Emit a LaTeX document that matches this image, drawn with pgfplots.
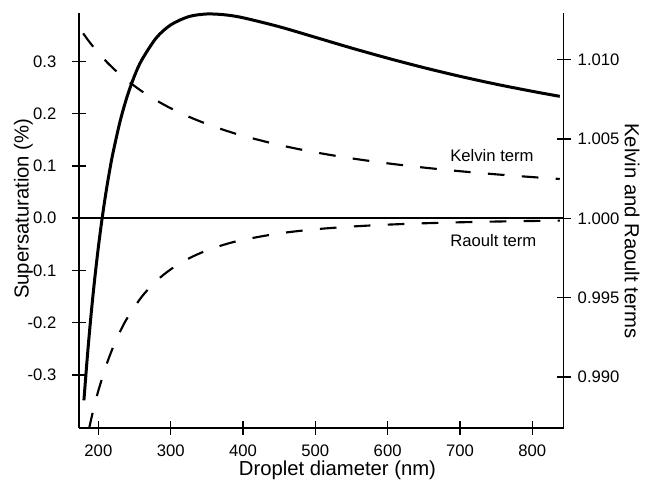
\documentclass[border=0pt]{standalone}
\usepackage{fontspec}
\setmainfont{Liberation Sans}
\usepackage{pgfplots}
\pgfplotsset{compat=1.18}

\pgfplotsset{
  common/.style={
    scale only axis, width=363.5pt, height=311.25pt,
    xmin=173.2, xmax=843.4,
    tick align=center, major tick length=10.5pt,
    every tick/.style={black, line width=1.1pt},
    axis line style={line width=1.1pt},
    tick label style={font=\fontsize{12.5}{14}\selectfont, inner sep=0pt},
    /pgf/number format/assume math mode=true,
  }
}

\begin{document}
\begin{tikzpicture}
\begin{axis}[common,
  axis x line*=bottom, axis y line*=left,
  ymin=-0.4014, ymax=0.3924,
  xtick={200,300,400,500,600,700,800},
  ytick={-0.3,-0.2,-0.1,0,0.1,0.2,0.3},
  xticklabel style={anchor=base, yshift=-15.95pt},
  yticklabel style={anchor=east, xshift=-11.5pt,
    /pgf/number format/.cd,fixed,fixed zerofill,precision=1},
  xlabel={Droplet diameter (nm)},
  ylabel={Supersaturation (\%)},
  every axis x label/.style={at={(axis description cs:0.5333,0)},anchor=base,yshift=-36pt,font=\fontsize{15.2}{18}\selectfont},
  every axis y label/.style={at={(axis description cs:-0.1038,0.528)},anchor=base,rotate=90,font=\fontsize{15.2}{18}\selectfont},
]
% zero line
\addplot[black, line width=1pt] coordinates {(173.2,0) (843.4,0)};
% Koehler curve, supersaturation in %
\addplot[black, line width=2.25pt, smooth] coordinates {
  (180,-0.3485) (185,-0.2606) (190,-0.1832) (195,-0.1152) (200,-0.0552)
  (205,-0.0022) (210,0.0449) (215,0.0865) (220,0.1234) (230,0.1851)
  (240,0.2338) (250,0.2723) (260,0.3025) (280,0.3447) (300,0.3696)
  (325,0.3855) (350,0.3905) (375,0.3889) (400,0.3833) (450,0.3662)
  (500,0.3459) (550,0.3254) (600,0.3060) (650,0.2879) (700,0.2713)
  (750,0.2562) (800,0.2426) (838,0.2330)
};
\node[anchor=base west, inner sep=0pt, font=\fontsize{12.5}{14}\selectfont] at (axis cs:686.2,0.1082) {Kelvin term};
\node[anchor=base west, inner sep=0pt, font=\fontsize{12.5}{14}\selectfont] at (axis cs:686.2,-0.0533) {Raoult term};
\end{axis}

\begin{axis}[common,
  axis x line=none, axis y line*=right,
  ymin=0.98678, ymax=1.01294,
  ytick={0.990,0.995,1.000,1.005,1.010},
  yticklabel style={anchor=west, xshift=5.1pt,
    /pgf/number format/.cd,fixed,fixed zerofill,precision=3},
  ylabel={Kelvin and Raoult terms},
  every axis y label/.style={at={(axis description cs:1.1265,0.475)},anchor=base,rotate=-90,font=\fontsize{15.2}{18}\selectfont},
]
% Kelvin term
\addplot[black, line width=1.6pt, dash pattern=on 12.5pt off 13pt, smooth] coordinates {
  (179,1.011654) (185,1.011274) (190,1.010976) (195,1.010693) (200,1.010424)
  (210,1.009925) (220,1.009472) (230,1.009058) (240,1.008679) (260,1.008009)
  (280,1.007435) (300,1.006937) (325,1.006402) (350,1.005944) (375,1.005546)
  (400,1.005198) (450,1.004620) (500,1.004157) (550,1.003778) (600,1.003463)
  (650,1.003196) (700,1.002967) (750,1.002769) (800,1.002596) (838,1.002478)
};
% Raoult term
\addplot[black, line width=1.6pt, dash pattern=on 12.5pt off 13pt, smooth] coordinates {
  (187,0.986711) (190,0.987331) (195,0.988280) (200,0.989138) (210,0.990617)
  (220,0.991839) (230,0.992858) (240,0.993714) (260,0.995056) (280,0.996041)
  (300,0.996781) (325,0.997469) (350,0.997973) (375,0.998352) (400,0.998642)
  (450,0.999046) (500,0.999305) (550,0.999478) (600,0.999598) (650,0.999684)
  (700,0.999747) (750,0.999794) (800,0.999830) (838,0.999852)
};
\end{axis}
\path (-59.25pt,-41.25pt) rectangle (431.25pt,321pt);
\end{tikzpicture}
\end{document}
